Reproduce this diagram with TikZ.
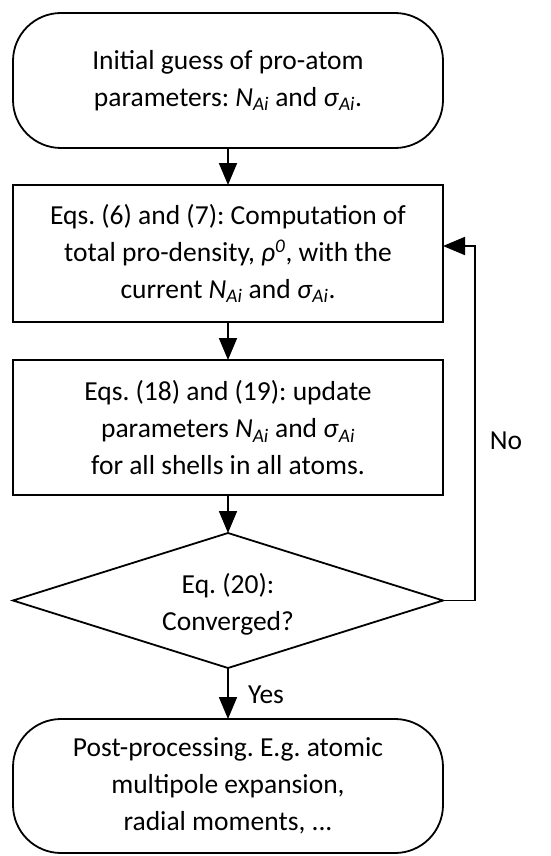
\documentclass[tikz,border=0pt]{standalone}
\usepackage{fontspec}
\setmainfont{Carlito}
\usetikzlibrary{arrows.meta}
\begin{document}
\frenchspacing
\begin{tikzpicture}[x=1pt,y=-1pt,
  every node/.style={font=\fontsize{27.5}{37}\selectfont\frenchspacing, align=center, inner sep=0pt, outer sep=0pt},
  term/.style={draw, line width=1.8pt, rounded corners=48pt, minimum width=430pt},
  procbox/.style={draw, line width=1.8pt, minimum width=430pt},
  arr/.style={line width=1.8pt, -{Triangle[length=22pt,width=18pt]}},
  lnk/.style={line width=1.8pt}]
\useasboundingbox (0,0) rectangle (550,856);
\node[term, minimum height=135pt] (start) at (228,80.5) {Initial guess of pro-atom\\parameters: \textit{N}\textsubscript{\textit{Ai}} and \textit{σ}\textsubscript{\textit{Ai}}.};
\node[procbox, minimum height=137pt] (b1) at (228,253.5) {Eqs. (6) and (7): Computation of\\total pro-density, \textit{ρ}\textsuperscript{\textit{0}}, with the\\current \textit{N}\textsubscript{\textit{Ai}} and \textit{σ}\textsubscript{\textit{Ai}}.};
\node[procbox, minimum height=135pt] (b2) at (228,427.5) {Eqs. (18) and (19): update\\parameters \textit{N}\textsubscript{\textit{Ai}} and \textit{σ}\textsubscript{\textit{Ai}}\\for all shells in all atoms.};
\node[minimum width=430pt, minimum height=135pt] (d) at (228,600.5) {};
\draw[lnk] (d.north) -- (d.east) -- (d.south) -- (d.west) -- cycle;
\node (dt) at (228,604) {Eq. (20):\\Converged?};
\node[term, minimum height=134pt] (end) at (228,786) {Post-processing. E.g. atomic\\multipole expansion,\\radial moments, ...};
\coordinate (c1) at (475,600.5);
\coordinate (c2) at (475,246);
\coordinate (c3) at (443,246);
\draw[arr] (start) -- (b1);
\draw[arr] (b1) -- (b2);
\draw[arr] (b2) -- (d.north);
\draw[arr] (d.south) -- (end);
\node (yes) at (266,695) {Yes};
\draw[arr] (d.east) -- (c1) -- (c2) -- (c3);
\node (no) at (506,441) {No};
\end{tikzpicture}
\end{document}
